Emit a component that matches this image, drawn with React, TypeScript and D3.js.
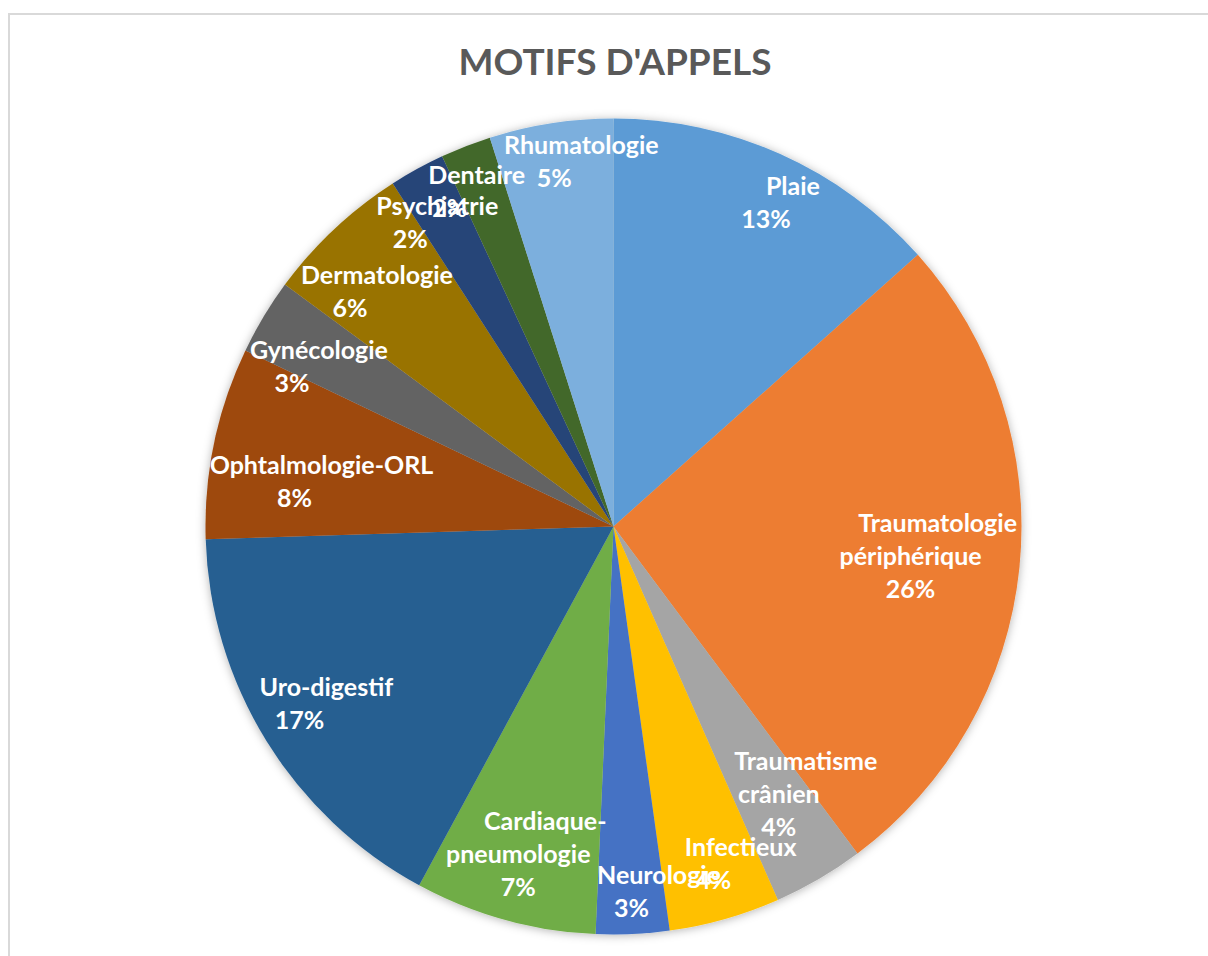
import React, { useEffect, useRef } from "react";
import * as d3 from "d3";

const categories = [
  "Plaie",
  "Traumatologie\npériphérique",
  "Traumatisme\ncrânien",
  "Infectieux",
  "Neurologie",
  "Cardiaque-\npneumologie",
  "Uro-digestif",
  "Ophtalmologie-ORL",
  "Gynécologie",
  "Dermatologie",
  "Psychiatrie",
  "Dentaire",
  "Rhumatologie",
];
const values = [13.4, 26.4, 3.6, 4.4, 2.9, 7.2, 16.6, 7.6, 3.0, 5.8, 2.2, 2.0, 4.9];
const colors = [
  "#5B9BD5", "#ED7D31", "#A5A5A5", "#FFC000", "#4472C4", "#70AD47", "#255E91",
  "#9E480E", "#636363", "#997300", "#264478", "#43682B", "#7CAFDD",
];
const title = "MOTIFS D'APPELS";

const W = 1208, H = 956;
const CX = 613.5, CY = 526.5, R = 408;
const FONT = "Lato, 'Open Sans', sans-serif";
const LABEL_SIZE = 25;
const LINE = 33;
const HALF_LINE = 15;
const SHIFT = 27;
const FIT = R + 3;

export default function App() {
  const ref = useRef<SVGSVGElement>(null);
  useEffect(() => {
    const svg = d3.select(ref.current as SVGSVGElement);
    svg.selectAll("*").remove();
    const defs = svg.append("defs");
    const f = defs.append("filter").attr("id", "shadow")
      .attr("x", "-10%").attr("y", "-10%").attr("width", "120%").attr("height", "120%");
    f.append("feDropShadow").attr("dx", 0).attr("dy", 1).attr("stdDeviation", 5)
      .attr("flood-color", "#000").attr("flood-opacity", 0.3);

    svg.append("rect").attr("x", 9).attr("y", 14).attr("width", 1300).attr("height", 1100)
      .attr("fill", "#fff").attr("stroke", "#d9d9d9").attr("stroke-width", 2);

    svg.append("text").attr("x", 615).attr("y", 75).attr("text-anchor", "middle")
      .attr("font-family", FONT).attr("font-weight", 700).attr("font-size", 37)
      .attr("fill", "#595959").text(title);

    const g = svg.append("g").attr("transform", `translate(${CX},${CY})`);
    const pie = d3.pie<number>().sort(null).value((d) => d);
    const arcs = pie(values);
    const arc = d3.arc<d3.PieArcDatum<number>>().innerRadius(0).outerRadius(R);
    g.append("g").attr("filter", "url(#shadow)")
      .selectAll("path").data(arcs).join("path")
      .attr("d", arc as any).attr("fill", (_d, i) => colors[i]);

    const total = d3.sum(values);
    const fmt = (v: number) => Math.round((v / total) * 100) + "%";
    const lg = g.append("g");
    arcs.forEach((a, i) => {
      const lines = [...categories[i].split("\n"), fmt(a.value)];
      const n = lines.length;
      const t = lg.append("text").attr("text-anchor", "middle").attr("fill", "#fff")
        .attr("font-family", FONT).attr("font-weight", 700).attr("font-size", LABEL_SIZE);
      const spans = lines.map((ln) => t.append("tspan").text(ln));
      const widths = spans.map((s) => (s.node() as SVGTSpanElement).getComputedTextLength());
      const mid = (a.startAngle + a.endAngle) / 2;
      const ux = Math.sin(mid), uy = -Math.cos(mid);
      // line centres relative to the percentage line x and the block's middle
      const lx = widths.map((_w, j) => (j === 0 ? SHIFT : 0));
      const ly = widths.map((_w, j) => (j - (n - 1) / 2) * LINE);
      // reference point of the block that sits on the bisector
      const ax0 = ux < -0.3 && uy < 0 ? SHIFT : 0;
      const ay0 = Math.abs(uy) > 0.15 ? Math.sign(uy) * LINE / 2 : 0;
      const minX = (d3.min(widths.map((w, j) => lx[j] - w / 2)) as number) - ax0;
      const maxX = (d3.max(widths.map((w, j) => lx[j] + w / 2)) as number) - ax0;
      const minY = ly[0] - HALF_LINE - ay0;
      const maxY = ly[n - 1] + HALF_LINE - ay0;
      const fits = (r: number) => {
        const x = ux * r, y = uy * r;
        let m = 0;
        for (const bx of [minX, maxX]) for (const by of [minY, maxY]) {
          m = Math.max(m, Math.hypot(x + bx, y + by));
        }
        return m <= FIT;
      };
      let lo = 0, hi = R;
      for (let it = 0; it < 40; it++) {
        const m = (lo + hi) / 2;
        if (fits(m)) lo = m; else hi = m;
      }
      const px = ux * lo - ax0, py = uy * lo - ay0;
      spans.forEach((s, j) => {
        s.attr("x", px + lx[j]).attr("y", py + ly[j] + 9);
      });
    });
  }, []);
  return (
    <svg ref={ref} width={W} height={H}
      style={{ position: "absolute", left: 0, top: 0, background: "#fff" }} />
  );
}
